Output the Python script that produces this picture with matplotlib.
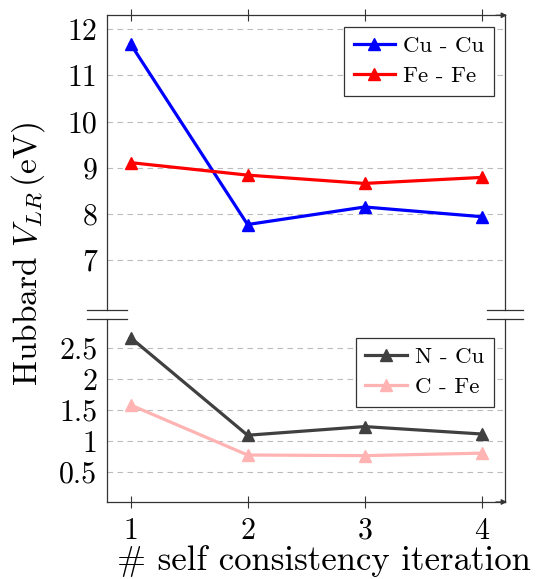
import numpy as np
import matplotlib.pyplot as plt

plt.rcParams['font.family'] = ['cmr10', 'DejaVu Serif']
plt.rcParams['mathtext.fontset'] = 'cm'
plt.rcParams['axes.formatter.use_mathtext'] = True

iteration = [1, 2, 3, 4]
cu_cu = [11.68, 7.77, 8.15, 7.94]
fe_fe = [9.11, 8.84, 8.66, 8.79]
n_cu = [2.67, 1.09, 1.23, 1.11]
c_fe = [1.58, 0.77, 0.76, 0.80]

top_ticks = [7, 8, 9, 10, 11, 12]
bot_ticks = [0.5, 1, 1.5, 2, 2.5]
bot_labels = ['0.5', '1', '1.5', '2', '2.5']

fig = plt.figure(figsize=(5.55, 5.79), dpi=100)
ax1 = fig.add_axes([0.193, 0.4646, 0.717, 0.509])
ax2 = fig.add_axes([0.193, 0.133, 0.717, 0.316])

lw = 2.3
ms = 9
ax1.plot(iteration, cu_cu, color='blue', lw=lw, marker='^', ms=ms, label='Cu - Cu')
ax1.plot(iteration, fe_fe, color='red', lw=lw, marker='^', ms=ms, label='Fe - Fe')
ax2.plot(iteration, n_cu, color='#404040', lw=lw, marker='^', ms=ms, label='N - Cu')
ax2.plot(iteration, c_fe, color='#ffb3b3', lw=lw, marker='^', ms=ms, label='C - Fe')

ax1.set_ylim(5.92, 12.3)
ax2.set_ylim(0.01, 2.97)
anchors = [(1, 1), (1, 0.96)]
for ax, anc in zip((ax1, ax2), anchors):
    ax.set_xlim(0.8, 4.2)
    ax.set_xticks(iteration)
    ax.grid(axis='y', color='#bbbbbb', ls=(0, (5, 4)), lw=0.8)
    ax.set_axisbelow(True)
    for s in ax.spines.values():
        s.set_color('#333333')
        s.set_linewidth(0.9)
    ax.tick_params(axis='y', length=0, labelsize=21.5, pad=7)
    leg = ax.legend(loc='upper right', bbox_to_anchor=anc, fontsize=16.5, fancybox=False,
                    framealpha=1, edgecolor='#333333', handlelength=1.8, borderpad=0.42,
                    labelspacing=0.42, handletextpad=0.35, borderaxespad=0.5)
    leg.get_frame().set_linewidth(0.9)

ax1.set_yticks(top_ticks)
ax1.set_yticklabels([str(t) for t in top_ticks])
ax2.set_yticks(bot_ticks)
ax2.set_yticklabels(bot_labels)

ax1.spines['bottom'].set_visible(False)
ax2.spines['top'].set_visible(False)
ax1.xaxis.tick_top()
ax1.tick_params(axis='x', direction='inout', length=8, labeltop=False, color='#333333')
ax2.tick_params(axis='x', direction='inout', length=8, labelsize=21.5, pad=7, color='#333333')

# arrows on x axis lines
ax1.annotate('', xy=(1.012, 1), xytext=(0.97, 1), xycoords='axes fraction',
             arrowprops=dict(arrowstyle='-|>', color='#333333', lw=0.9, mutation_scale=8))
ax2.annotate('', xy=(1.012, 0), xytext=(0.97, 0), xycoords='axes fraction',
             arrowprops=dict(arrowstyle='-|>', color='#333333', lw=0.9, mutation_scale=8))

# break marks
for xs in ([-0.05, 0.05], [0.955, 1.045]):
    ax1.plot(xs, [0, 0], transform=ax1.transAxes, color='#333333', lw=0.9, clip_on=False)
    ax2.plot(xs, [1, 1], transform=ax2.transAxes, color='#333333', lw=0.9, clip_on=False)

fig.text(0.05, 0.561, 'Hubbard $V_{LR}\\,$(eV)', rotation=90, ha='center', va='center', fontsize=24)
fig.text(0.584, 0.0155, '# self consistency iteration', ha='center', va='baseline', fontsize=25)

fig.savefig('out.png', dpi=100)
